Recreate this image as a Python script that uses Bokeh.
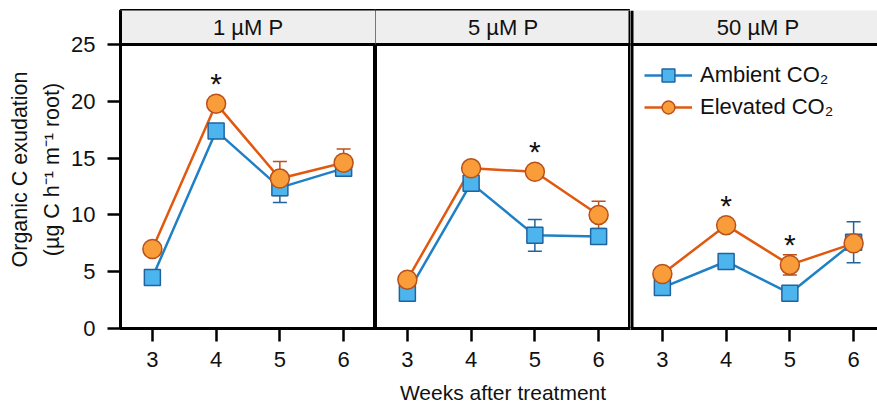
from bokeh.plotting import figure
from bokeh.layouts import row
from bokeh.models import (ColumnDataSource, Whisker, TeeHead, FixedTicker, Label,
                          Legend, LegendItem, Range1d)
from bokeh.embed import file_html
from bokeh.resources import INLINE
from bokeh.core.properties import value

weeks = [3, 4, 5, 6]
panels = ["1 µM P", "5 µM P", "50 µM P"]
amb_mean = [[4.5, 17.4, 12.4, 14.1], [3.1, 12.8, 8.2, 8.1], [3.6, 5.9, 3.1, 7.6]]
amb_err = [[0.4, 0.5, 1.3, 0.4], [0.3, 0.4, 1.4, 0.5], [0.4, 0.4, 0.4, 1.8]]
elev_mean = [[7.0, 19.8, 13.2, 14.6], [4.3, 14.1, 13.8, 10.0], [4.8, 9.1, 5.6, 7.5]]
elev_err = [[0.3, 0.3, 1.5, 1.2], [0.4, 0.4, 0.3, 1.2], [0.4, 0.3, 0.9, 0.4]]
sig = [[0, 1, 0, 0], [0, 0, 1, 0], [0, 1, 1, 0]]
y_ticks = [0, 5, 10, 15, 20, 25]

FONT = "Liberation Sans"
TXT = "#111111"
AMB_LINE, AMB_FILL, AMB_EDGE = "#1f80c6", "#4db5ee", "#1f63a0"
EL_LINE, EL_FILL, EL_EDGE = "#e1580f", "#f99d3a", "#b9511a"

widths = [375, 255, 247]
left_borders = [120, 0, 0]
figs = []
for i, name in enumerate(panels):
    frame_w = widths[i] - left_borders[i]
    xr_end = 2.5 + frame_w / 63.75
    p = figure(width=widths[i], height=406, output_backend="svg", toolbar_location=None,
               x_range=Range1d(2.5, xr_end), y_range=Range1d(0, 28),
               y_axis_location="left" if i == 0 else None,
               min_border_top=10, min_border_bottom=78,
               min_border_left=left_borders[i], min_border_right=0)
    p.grid.visible = False
    p.background_fill_color = "white"
    p.border_fill_color = "white"
    p.outline_line_color = "black" if i < 2 else None
    p.outline_line_width = 3

    # strip header
    p.quad(left=2.0, right=8.0, bottom=25, top=28.5, fill_color="#eeeeee",
           line_color="black", line_width=3)
    p.add_layout(Label(x=4.5, y=26.5, text=name, text_align="center", text_baseline="middle",
                       text_font=FONT, text_font_size="22px", text_color=TXT))
    if i == 1:
        p.segment(x0=xr_end, x1=xr_end, y0=0, y1=28, line_color="black", line_width=4)
    if i == 2:
        p.segment(x0=2.5, x1=2.5, y0=0, y1=28, line_color="black", line_width=6)

    # x axis
    xa = p.xaxis[0]
    xa.ticker = FixedTicker(ticks=weeks)
    xa.axis_line_width = 3
    xa.major_tick_line_width = 2.5
    xa.major_tick_out = 13
    xa.major_tick_in = 0
    xa.minor_tick_line_color = None
    xa.major_label_text_font = FONT
    xa.major_label_text_font_size = "22px"
    xa.major_label_text_color = TXT
    xa.major_label_standoff = 10
    if i == 1:
        xa.axis_label = "Weeks after treatment"
        xa.axis_label_text_font = FONT
        xa.axis_label_text_font_style = "normal"
        xa.axis_label_text_font_size = "21px"
        xa.axis_label_text_color = TXT
        xa.axis_label_standoff = 11

    if i == 0:
        ya = p.yaxis[0]
        ya.ticker = FixedTicker(ticks=y_ticks)
        ya.axis_line_width = 3
        ya.major_tick_line_width = 2.5
        ya.major_tick_out = 13
        ya.major_tick_in = 0
        ya.minor_tick_line_color = None
        ya.major_label_text_font = FONT
        ya.major_label_text_font_size = "22px"
        ya.major_label_text_color = TXT
        ya.major_label_standoff = 12
        ya.axis_label = "Organic C exudation\n(µg C h\u207b\u00b9 m\u207b\u00b9 root)"
        ya.axis_label_text_font = FONT
        ya.axis_label_text_font_style = "normal"
        ya.axis_label_text_font_size = "21.5px"
        ya.axis_label_text_line_height = 1.35
        ya.axis_label_text_color = TXT
        ya.axis_label_standoff = 4

    amb = ColumnDataSource(dict(x=weeks, y=amb_mean[i],
                                lo=[m - e for m, e in zip(amb_mean[i], amb_err[i])],
                                hi=[m + e for m, e in zip(amb_mean[i], amb_err[i])]))
    el = ColumnDataSource(dict(x=weeks, y=elev_mean[i],
                               lo=[m - e for m, e in zip(elev_mean[i], elev_err[i])],
                               hi=[m + e for m, e in zip(elev_mean[i], elev_err[i])]))

    l_a = p.line("x", "y", source=amb, line_color=AMB_LINE, line_width=2.5)
    l_e = p.line("x", "y", source=el, line_color=EL_LINE, line_width=2.5)
    s_a = p.scatter("x", "y", source=amb, marker="square", size=16,
                    fill_color=AMB_FILL, line_color=AMB_EDGE, line_width=1.5)
    s_e = p.scatter("x", "y", source=el, marker="circle", size=19,
                    fill_color=EL_FILL, line_color=EL_EDGE, line_width=1.5)

    for src, c in ((amb, AMB_EDGE), (el, EL_EDGE)):
        w = Whisker(base="x", upper="hi", lower="lo", source=src, line_color=c, line_width=1.5,
                    upper_head=TeeHead(size=14, line_color=c, line_width=1.5),
                    lower_head=TeeHead(size=14, line_color=c, line_width=1.5))
        p.add_layout(w)

    star = ColumnDataSource(dict(x=[w_ for w_, s in zip(weeks, sig[i]) if s],
                                 y=[m for m, s in zip(elev_mean[i], sig[i]) if s]))
    p.text("x", "y", source=star, text=value("*"), text_align="center", text_baseline="middle",
           y_offset=-20, text_font=value(FONT), text_font_size="30px", text_color=TXT)

    if i == 2:
        leg = Legend(items=[LegendItem(label="Ambient CO\u2082", renderers=[l_a, s_a]),
                            LegendItem(label="Elevated CO\u2082", renderers=[l_e, s_e])],
                     location=(14, 205), padding=0, margin=0, spacing=0,
                     label_height=32, glyph_height=32, glyph_width=48, label_standoff=8,
                     label_text_font=FONT, label_text_font_size="22px",
                     label_text_color=TXT,
                     background_fill_alpha=0, border_line_color=None)
        p.add_layout(leg)
    figs.append(p)

layout = row(*figs, spacing=0)
open("out.html", "w").write(file_html(layout, INLINE))
